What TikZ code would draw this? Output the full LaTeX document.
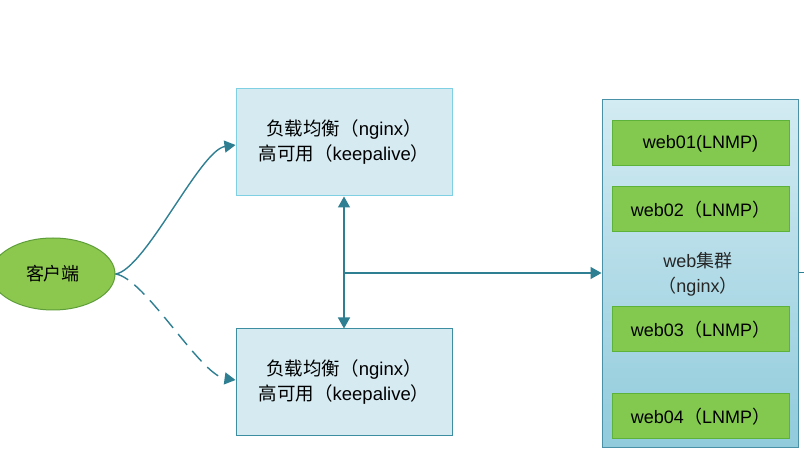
\documentclass[tikz,border=0pt]{standalone}
\usepackage{fontspec}
\setmainfont{Liberation Sans}
\newfontfamily\cjk{Noto Sans CJK SC}
\usetikzlibrary{arrows.meta,shapes.geometric}
\definecolor{edgec}{HTML}{2F7F93}
\definecolor{ellfill}{HTML}{8DC84E}
\definecolor{elldraw}{HTML}{5E9E3A}
\definecolor{lbfill}{HTML}{D5EAF1}
\definecolor{lbtop}{HTML}{7FD0E2}
\definecolor{lbbot}{HTML}{3D8EA0}
\definecolor{gfill}{HTML}{84C94F}
\definecolor{gdraw}{HTML}{5DB33A}
\definecolor{cltop}{HTML}{D3EBF2}
\definecolor{clbot}{HTML}{90CBDC}
\definecolor{cldraw}{HTML}{4A90A6}
\tikzset{
  tip/.tip={Triangle[width=12pt,length=11pt]},
  conn/.style={draw=edgec, line width=1.4pt, -tip},
  lbbox/.style={draw, fill=lbfill, line width=1pt, minimum width=216pt, minimum height=107pt, inner sep=0pt, align=center, font=\fontsize{18.5}{25}\selectfont},
  webbox/.style={draw=gdraw, fill=gfill, line width=1pt, minimum width=177pt, minimum height=45pt, inner sep=0pt, font=\fontsize{18}{20}\selectfont},
}
\begin{document}
\begin{tikzpicture}[x=1pt,y=-1pt]
\useasboundingbox (0,0) rectangle (804,462);
\clip (0,0) rectangle (804,462);
\fill[white] (0,0) rectangle (804,462);
% client ellipse
\node[ellipse, draw=elldraw, fill=ellfill, line width=1pt, minimum width=124pt, minimum height=72pt, inner sep=0pt, font=\cjk\fontsize{18}{20}\selectfont] (client) at (53,274) {客户端};
% load balancers
\node[lbbox, draw=lbtop] (lb1) at (344,142.5) {{\cjk 负载均衡（}nginx{\cjk ）}\\{\cjk 高可用（}keepalive{\cjk ）}};
\node[lbbox, draw=lbbot] (lb2) at (344,382.5) {{\cjk 负载均衡（}nginx{\cjk ）}\\{\cjk 高可用（}keepalive{\cjk ）}};
% cluster
\node[draw=cldraw, line width=1pt, top color=cltop, bottom color=clbot, minimum width=196pt, minimum height=348pt, inner sep=0pt] (cluster) at (700,274) {};
\node[align=center, font=\fontsize{18}{25}\selectfont, text=black!85] (cltext) at (698,274) {web{\cjk 集群}\\{\cjk （}nginx{\cjk ）}};
\node[webbox] (w1) at (700.5,143.5) {web01(LNMP)};
\node[webbox] (w2) at (700.5,209.5) {web02{\cjk （}LNMP{\cjk ）}};
\node[webbox] (w3) at (700.5,329.5) {web03{\cjk （}LNMP{\cjk ）}};
\node[webbox] (w4) at (700.5,416.5) {web04{\cjk （}LNMP{\cjk ）}};
% connectors
\coordinate (split) at (344,273);
\coordinate (off) at (810,273);
\draw[conn] (client.east) .. controls (145,270) and (200,150) .. (lb1.west |- 0,145);
\draw[conn, dash pattern=on 14pt off 8pt] (client.east) .. controls (145,278) and (200,375) .. (lb2.west |- 0,380);
\draw[draw=edgec, line width=1.4pt, tip-tip] (lb1.south) -- (lb2.north);
\draw[conn] (split) -- (cluster.west |- split);
\draw[draw=edgec, line width=1pt] (cluster.east |- split) -- (off);
\end{tikzpicture}
\end{document}
